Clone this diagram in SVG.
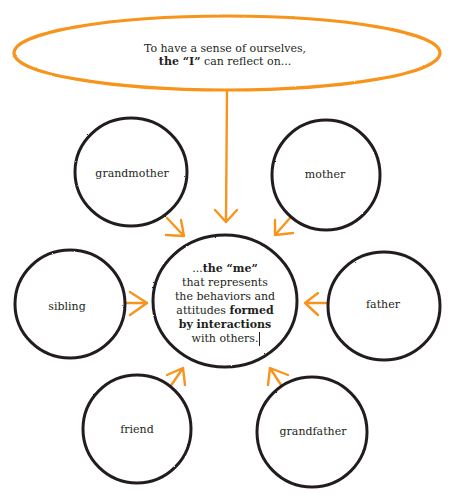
<svg xmlns="http://www.w3.org/2000/svg" width="455" height="503" viewBox="0 0 455 503">
<style>
.node{fill:#fff;stroke:#231f20;stroke-width:3}
.lbl{font-family:"DejaVu Serif","Liberation Serif",serif;font-size:11px;fill:#231f20;text-anchor:middle}
.b{font-weight:bold}
.arr{fill:none;stroke:#f7941d;stroke-width:2.4;stroke-linecap:round;stroke-linejoin:round}
</style>
<defs>
<filter id="rough" x="-10%" y="-10%" width="120%" height="120%">
<feTurbulence type="fractalNoise" baseFrequency="0.9" numOctaves="2" seed="3" result="n"/>
<feDisplacementMap in="SourceGraphic" in2="n" scale="1.6"/>
</filter>
</defs>
<rect width="455" height="503" fill="#fff"/>
<g id="connectors">
<path class="arr" d="M227 90 L226 222 M215 210 L226 222 L237 210"/>
<path class="arr" d="M167 218 L184 236 M181 220 L184 236 L166 235"/>
<path class="arr" d="M290 218 L275 235 M275 220 L275 235 L293 233"/>
<path class="arr" d="M124 303 L147 303 M130 292 L147 303 L130 315"/>
<path class="arr" d="M330 303 L305 303 M318 293 L305 303 L318 315"/>
<path class="arr" d="M170 387 L183 368 M167 375 L183 368 L185 385"/>
<path class="arr" d="M283 388 L270 368 M268 385 L270 368 L288 375"/>
</g>
<g id="top">
<ellipse cx="227" cy="53" rx="213" ry="37" fill="#fff" stroke="#f7941d" stroke-width="3.2" filter="url(#rough)"/>
<text class="lbl" x="225" y="52">To have a sense of ourselves,</text>
<text class="lbl" x="225" y="65"><tspan class="b">the “I”</tspan> can reflect on...</text>
</g>
<g id="me">
<ellipse class="node" cx="225" cy="301" rx="72" ry="66" stroke-width="4" filter="url(#rough)"/>
<text class="lbl" x="225" y="272">...<tspan class="b">the “me”</tspan></text>
<text class="lbl" x="225" y="286">that represents</text>
<text class="lbl" x="225" y="300">the behaviors and</text>
<text class="lbl" x="225" y="314">attitudes <tspan class="b">formed</tspan></text>
<text class="lbl b" x="225" y="328">by interactions</text>
<text class="lbl" x="225" y="342">with others.</text>
<line x1="259.5" y1="332" x2="259.5" y2="346" stroke="#231f20" stroke-width="1"/>
</g>
<g id="grandmother">
<ellipse class="node" cx="131" cy="172" rx="56" ry="54" filter="url(#rough)"/>
<text class="lbl" x="132" y="177">grandmother</text>
</g>
<g id="mother">
<ellipse class="node" cx="326" cy="175" rx="54" ry="55" filter="url(#rough)"/>
<text class="lbl" x="325" y="178">mother</text>
</g>
<g id="sibling">
<ellipse class="node" cx="70" cy="304" rx="55" ry="54" filter="url(#rough)"/>
<text class="lbl" x="67" y="310">sibling</text>
</g>
<g id="father">
<ellipse class="node" cx="384" cy="306" rx="56" ry="54" filter="url(#rough)"/>
<text class="lbl" x="383" y="308">father</text>
</g>
<g id="friend">
<ellipse class="node" cx="137" cy="429" rx="54" ry="54" filter="url(#rough)"/>
<text class="lbl" x="137" y="433">friend</text>
</g>
<g id="grandfather">
<ellipse class="node" cx="312" cy="432" rx="55" ry="55" filter="url(#rough)"/>
<text class="lbl" x="313" y="435">grandfather</text>
</g>
</svg>
